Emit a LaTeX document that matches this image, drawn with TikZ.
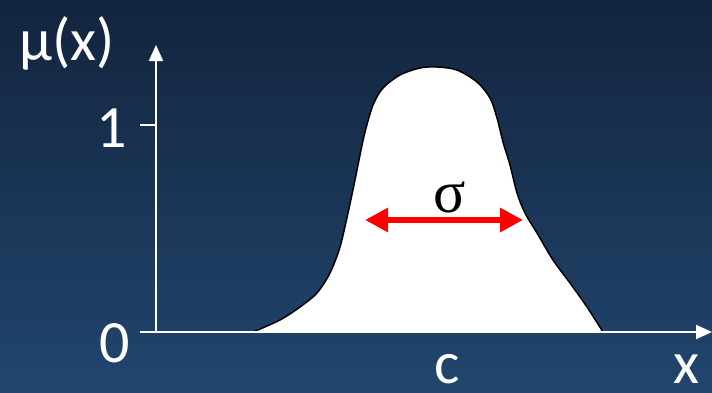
\documentclass[tikz,border=0pt]{standalone}
\usepackage{fontspec}
\setmainfont{Carlito}
\newfontfamily\sigmafont{Liberation Serif}
\usetikzlibrary{positioning, arrows.meta, calc}
\definecolor{bgtop}{HTML}{13243D}
\definecolor{bgbottom}{HTML}{21466F}
\definecolor{widthred}{HTML}{FF0000}

\begin{document}
\begin{tikzpicture}[x=1pt, y=1pt,
    axis/.style={draw=white, line width=2pt},
    axislabel/.style={text=white, font=\fontsize{60}{72}\selectfont, inner sep=0pt, anchor=base}]
  \useasboundingbox (0,0) rectangle (712,392);
  \shade[top color=bgtop, bottom color=bgbottom] (0,0) rectangle (712,392);

  % membership function
  \def\bellpoints{(253,60) (280,72) (300,85) (317,99) (330,119) (340,145) (348,179) (355,212) (360,237) (365,260) (373,287) (383,304) (400,317) (420,324) (437,325) (457,322) (477,310) (490,294) (497,274) (503,250) (510,227) (517,199) (525,179) (537,159) (553,132) (570,109) (587,85) (603,60)}
  \fill[white] plot[smooth, tension=0.5] coordinates {\bellpoints} -- cycle;
  \draw[black, line width=1.5pt] plot[smooth, tension=0.5] coordinates {\bellpoints};

  % axes
  \coordinate (origin) at (156,60);
  \coordinate (xstart) at (140,60);
  \coordinate (xend) at (712,60);
  \coordinate (yend) at (156,347);
  \coordinate (tickstart) at (140,267);
  \coordinate (tickend) at (156,267);
  \draw[axis, -{Triangle[length=16pt,width=14pt]}] (xstart) -- (xend);
  \draw[axis, -{Triangle[length=16pt,width=14pt]}] (origin) -- (yend);
  \draw[axis] (tickstart) -- (tickend);

  \node[axislabel] (mu) at (67,332) {μ(x)};
  \node[axislabel] (one) at (112,245) {1};
  \node[axislabel] (zero) at (115,30) {0};
  \node[axislabel] (center) at (447,9) {c};
  \node[axislabel] (xlabel) at (686,9) {x};

  % width
  \coordinate (wleft) at (365,172);
  \coordinate (wright) at (523,172);
  \draw[widthred, line width=6pt, {Triangle[length=23pt,width=23pt]}-{Triangle[length=23pt,width=23pt]}] (wleft) -- (wright);
  \node[font=\sigmafont\fontsize{60}{72}\selectfont, anchor=base, inner sep=0pt] (sigma) at (450,180) {σ};
\end{tikzpicture}
\end{document}
